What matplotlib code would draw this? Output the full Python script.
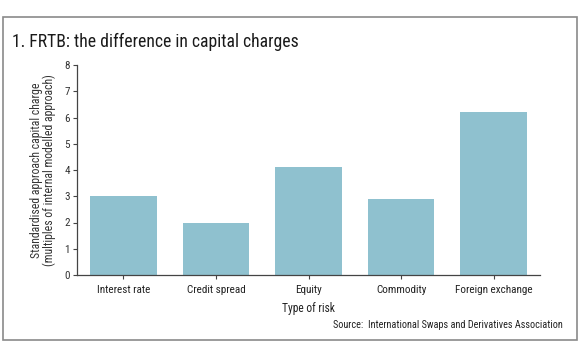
import matplotlib.pyplot as plt
from matplotlib.patches import Rectangle

# Data
risk_types = ['Interest rate', 'Credit spread', 'Equity', 'Commodity', 'Foreign exchange']
multiples = [3.0, 2.0, 4.1, 2.9, 6.2]
y_ticks = [0, 1, 2, 3, 4, 5, 6, 7, 8]

plt.rcParams['font.family'] = ['Roboto Condensed', 'Open Sans Condensed',
                               'Liberation Sans Narrow', 'Roboto', 'DejaVu Sans']

W, H = 580, 358
fig = plt.figure(figsize=(W / 100, H / 100), dpi=100)

# Outer frame around the chart
fig.patches.append(Rectangle((3 / W, 1 - 340 / H), 574 / W, 323 / H,
                             transform=fig.transFigure, fill=False,
                             edgecolor='#8a8a8a', linewidth=1.2))

fig.text(12 / W, 1 - 42 / H, '1. FRTB: the difference in capital charges',
         fontsize=12.7, color='#1a1a1a', va='center', ha='left')

ax = fig.add_axes([77 / W, 1 - 275 / H, 463 / W, 210 / H])
x = range(len(risk_types))
ax.bar(x, multiples, width=0.72, color='#8fc1cf')

ax.set_xlim(-0.5, 4.5)
ax.set_ylim(0, 8)
ax.set_yticks(y_ticks)
ax.set_xticks(list(x))
ax.set_xticklabels(risk_types)

for side in ['top', 'right']:
    ax.spines[side].set_visible(False)
for side in ['left', 'bottom']:
    ax.spines[side].set_color('#444444')
    ax.spines[side].set_linewidth(0.9)

ax.tick_params(axis='y', direction='out', length=3, width=0.8, colors='#444444',
               labelsize=8, labelcolor='#333333', pad=2)
ax.tick_params(axis='x', direction='out', length=3, width=0.8, colors='#444444',
               labelsize=8, labelcolor='#222222', pad=4)

ax.set_ylabel('Standardised approach capital charge\n(multiples of internal modelled approach)',
              fontsize=8.5, color='#333333', labelpad=6, linespacing=1.0)
ax.set_xlabel('Type of risk', fontsize=8.3, color='#222222', labelpad=5.5)

fig.text(563 / W, 1 - 325 / H, 'Source:  International Swaps and Derivatives Association',
         fontsize=7.4, color='#222222', ha='right', va='center')

fig.savefig('out.png', dpi=100)
